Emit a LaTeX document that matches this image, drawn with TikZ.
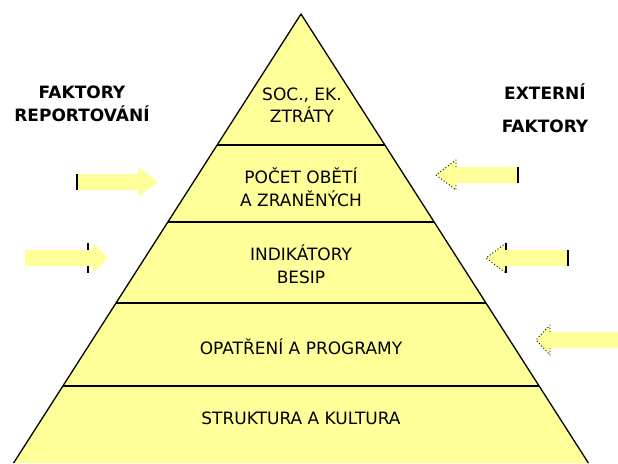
\documentclass[tikz,border=0pt]{standalone}
\usepackage{fontspec}
\setmainfont{DejaVu Sans}
\usepackage{tikz}
\definecolor{ink}{HTML}{000000}
\definecolor{pyrfill}{HTML}{FFFF99}
\definecolor{arrfill}{HTML}{FFFF99}
\usetikzlibrary{calc}
\tikzset{
  every picture/.style={line join=round},
  pyrside/.style={draw=ink, line width=1.3pt},
  band/.style={draw=ink, line width=1.1pt},
  layer/.style={font=\fontsize{17}{22.5}\selectfont, text=ink, align=center, inner sep=0pt},
  factor/.style={font=\bfseries\fontsize{17}{23}\selectfont, text=ink, align=center, inner sep=0pt},
  blockarrow/.style={fill=arrfill, draw=none},
  tailbar/.style={draw=ink, line width=1.2pt},
  headdots/.style={draw=ink, line width=0.9pt, dash pattern=on 1pt off 2.2pt}
}
% block arrow: tail x, head base x, tip x, mid y
\newcommand{\blockarr}[4]{%
  \fill[blockarrow] (#1,#4-8) -- (#2,#4-8) -- (#2,#4-15) -- (#3,#4)
    -- (#2,#4+15) -- (#2,#4+8) -- (#1,#4+8) -- cycle;}

\begin{document}
\begin{tikzpicture}[x=1pt, y=-1pt]
  \useasboundingbox (0,0) rectangle (618,463);

  % Pyramid
  \coordinate (apex) at (301,14);
  \coordinate (bl) at (13.6,463);
  \coordinate (br) at (588.4,463);
  \fill[pyrfill] (bl) -- (apex) -- (br) -- cycle;
  \draw[pyrside] (bl) -- (apex) -- (br);
  \foreach \yy in {145,222,303,386}
    \draw[band] ({301-0.64*(\yy-14)},\yy) -- ({301+0.64*(\yy-14)},\yy);

  % Layers
  \node[layer] (soc) at (302,105) {SOC., EK.\\ZTRÁTY};
  \node[layer] (obeti) at (301,187) {POČET OBĚTÍ\\A ZRANĚNÝCH};
  \node[layer] (indik) at (301,264) {INDIKÁTORY\\BESIP};
  \node[layer] (opatr) at (301,347) {OPATŘENÍ A PROGRAMY};
  \node[layer] (strukt) at (301,418) {STRUKTURA A KULTURA};

  % Side headings
  \node[factor] (report) at (82,104) {FAKTORY\\REPORTOVÁNÍ};
  \node[factor] (extern) at (545,108) {EXTERNÍ\\[10pt]FAKTORY};

  % Arrows from the left
  \blockarr{77}{138}{158}{182}
  \blockarr{25}{93}{108}{258}
  \draw[tailbar] (77,174) -- (77,190);
  \draw[tailbar] (88,243) -- (88,250);
  \draw[tailbar] (88,266) -- (88,273);

  % Arrows from the right
  \blockarr{518}{456}{436}{175}
  \blockarr{568}{506}{486}{258}
  \blockarr{618}{550}{536}{340}
  \draw[tailbar] (518,167) -- (518,183);
  \draw[headdots] (456,167) -- (456,160) -- (436,175) -- (456,190) -- (456,183);
  \draw[tailbar] (568,250) -- (568,266);
  \draw[tailbar] (506,243) -- (506,250);
  \draw[tailbar] (506,266) -- (506,273);
  \draw[headdots] (506,243) -- (486,258) -- (506,273);
  \draw[headdots] (550,332) -- (550,325) -- (536,340) -- (550,355) -- (550,348);
\end{tikzpicture}
\end{document}
